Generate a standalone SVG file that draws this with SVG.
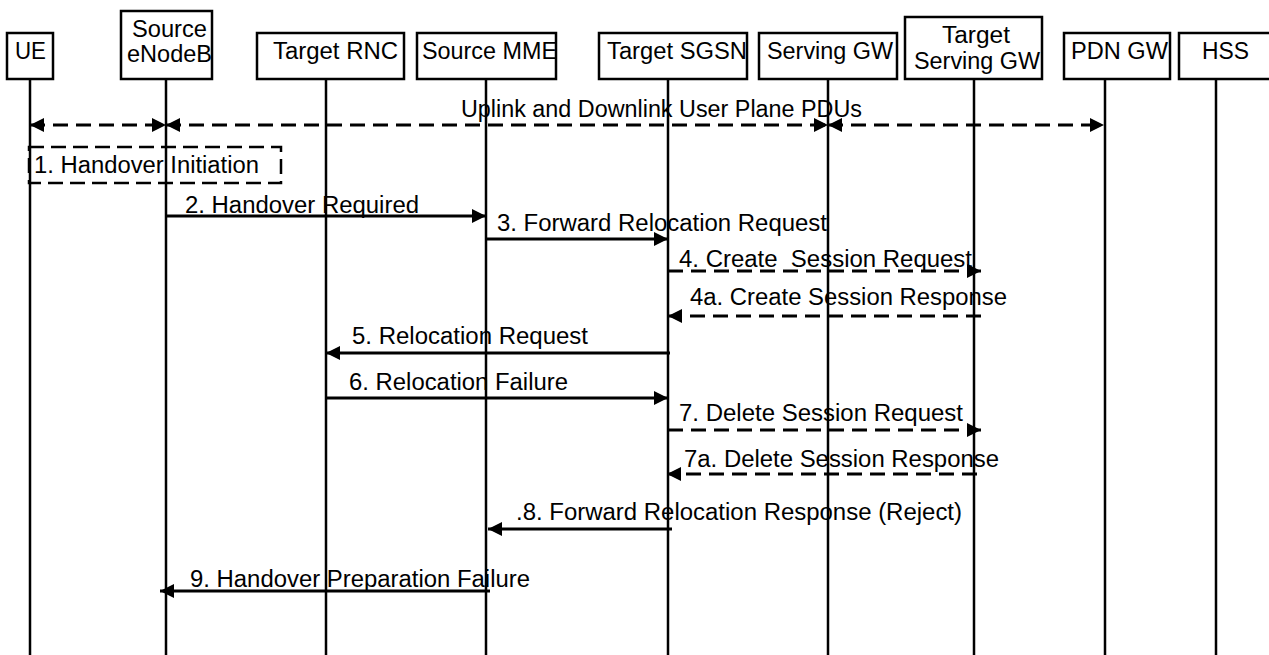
<svg xmlns="http://www.w3.org/2000/svg" width="1269" height="655" viewBox="0 0 1269 655">
<style>
text{font-family:"Liberation Sans",Arial,sans-serif;font-size:23.5px;fill:#000}
.box{fill:#fff;stroke:#000;stroke-width:2.5}
.life{stroke:#000;stroke-width:2.5;fill:none}
.msg{stroke:#000;stroke-width:3;fill:none}
.dash{stroke-dasharray:15 8}
</style>
<defs>
<marker id="ah" markerUnits="userSpaceOnUse" markerWidth="16" markerHeight="16" refX="14" refY="7" orient="auto-start-reverse">
<path d="M0,0 L14,7 L0,14 z" fill="#000"/>
</marker>
</defs>
<g id="lifelines">
<line class="life" x1="30" y1="79" x2="30" y2="655"/>
<line class="life" x1="166" y1="79" x2="166" y2="655"/>
<line class="life" x1="326" y1="79" x2="326" y2="655"/>
<line class="life" x1="486" y1="79" x2="486" y2="655"/>
<line class="life" x1="668" y1="79" x2="668" y2="655"/>
<line class="life" x1="828" y1="79" x2="828" y2="655"/>
<line class="life" x1="974" y1="79" x2="974" y2="655"/>
<line class="life" x1="1105" y1="79" x2="1105" y2="655"/>
<line class="life" x1="1216" y1="79" x2="1216" y2="655"/>
</g>
<g id="node-ue"><rect class="box" x="7" y="33" width="46" height="46"/><text x="15" y="59" textLength="31" lengthAdjust="spacingAndGlyphs">UE</text></g>
<g id="node-source-enodeb"><rect class="box" x="121" y="11" width="91" height="68"/><text x="132" y="37" textLength="75" lengthAdjust="spacingAndGlyphs">Source</text><text x="127" y="62" textLength="85" lengthAdjust="spacingAndGlyphs">eNodeB</text></g>
<g id="node-target-rnc"><rect class="box" x="257" y="33" width="147" height="46"/><text x="273" y="59" textLength="125" lengthAdjust="spacingAndGlyphs">Target RNC</text></g>
<g id="node-source-mme"><rect class="box" x="417" y="33" width="139" height="46"/><text x="422" y="59" textLength="135" lengthAdjust="spacingAndGlyphs">Source MME</text></g>
<g id="node-target-sgsn"><rect class="box" x="599" y="33" width="148" height="46"/><text x="607" y="59" textLength="140" lengthAdjust="spacingAndGlyphs">Target SGSN</text></g>
<g id="node-serving-gw"><rect class="box" x="759" y="33" width="138" height="46"/><text x="767" y="59" textLength="126" lengthAdjust="spacingAndGlyphs">Serving GW</text></g>
<g id="node-target-serving-gw"><rect class="box" x="905" y="17" width="137" height="62"/><text x="942" y="43" textLength="68" lengthAdjust="spacingAndGlyphs">Target</text><text x="914" y="69" textLength="126" lengthAdjust="spacingAndGlyphs">Serving GW</text></g>
<g id="node-pdn-gw"><rect class="box" x="1064" y="33" width="106" height="46"/><text x="1071" y="59" textLength="97" lengthAdjust="spacingAndGlyphs">PDN GW</text></g>
<g id="node-hss"><rect class="box" x="1179" y="33" width="100" height="46"/><text x="1202" y="59" textLength="47" lengthAdjust="spacingAndGlyphs">HSS</text></g>
<g id="step1-box">
<rect x="29" y="147" width="252" height="36" fill="none" stroke="#000" stroke-width="2.5" stroke-dasharray="15 7"/>
<text x="34" y="173" textLength="225" lengthAdjust="spacingAndGlyphs">1. Handover Initiation</text>
</g>
<g id="connectors">
<line class="msg dash" x1="30" y1="125" x2="166" y2="125" marker-start="url(#ah)" marker-end="url(#ah)"/>
<line class="msg dash" x1="166" y1="125" x2="828" y2="125" marker-start="url(#ah)" marker-end="url(#ah)"/>
<line class="msg dash" x1="828" y1="125" x2="1104" y2="125" marker-start="url(#ah)" marker-end="url(#ah)"/>
<line class="msg" x1="166" y1="216" x2="486" y2="216" marker-end="url(#ah)"/>
<line class="msg" x1="486" y1="239" x2="668" y2="239" marker-end="url(#ah)"/>
<line class="msg dash" x1="668" y1="271" x2="981" y2="271" marker-end="url(#ah)"/>
<line class="msg dash" x1="981" y1="316" x2="668" y2="316" marker-end="url(#ah)"/>
<line class="msg" x1="670" y1="353" x2="326" y2="353" marker-end="url(#ah)"/>
<line class="msg" x1="326" y1="398" x2="668" y2="398" marker-end="url(#ah)"/>
<line class="msg dash" x1="668" y1="430" x2="981" y2="430" marker-end="url(#ah)"/>
<line class="msg dash" x1="977" y1="474" x2="667" y2="474" marker-end="url(#ah)"/>
<line class="msg" x1="672" y1="529" x2="488" y2="529" marker-end="url(#ah)"/>
<line class="msg" x1="490" y1="591" x2="160" y2="591" marker-end="url(#ah)"/>
</g>
<g id="labels">
<text x="461" y="117" textLength="401" lengthAdjust="spacingAndGlyphs">Uplink and Downlink User Plane PDUs</text>
<text x="185" y="213" textLength="234" lengthAdjust="spacingAndGlyphs">2. Handover Required</text>
<text x="497" y="231" textLength="330" lengthAdjust="spacingAndGlyphs">3. Forward Relocation Request</text>
<text x="679" y="267" textLength="293" lengthAdjust="spacingAndGlyphs" xml:space="preserve">4. Create  Session Request</text>
<text x="690" y="305" textLength="317" lengthAdjust="spacingAndGlyphs">4a. Create Session Response</text>
<text x="352" y="344" textLength="236" lengthAdjust="spacingAndGlyphs">5. Relocation Request</text>
<text x="349" y="390" textLength="219" lengthAdjust="spacingAndGlyphs">6. Relocation Failure</text>
<text x="679" y="421" textLength="284" lengthAdjust="spacingAndGlyphs">7. Delete Session Request</text>
<text x="684" y="467" textLength="315" lengthAdjust="spacingAndGlyphs">7a. Delete Session Response</text>
<text x="516" y="520" textLength="446" lengthAdjust="spacingAndGlyphs">.8. Forward Relocation Response (Reject)</text>
<text x="190" y="587" textLength="340" lengthAdjust="spacingAndGlyphs">9. Handover Preparation Failure</text>
</g>
</svg>
